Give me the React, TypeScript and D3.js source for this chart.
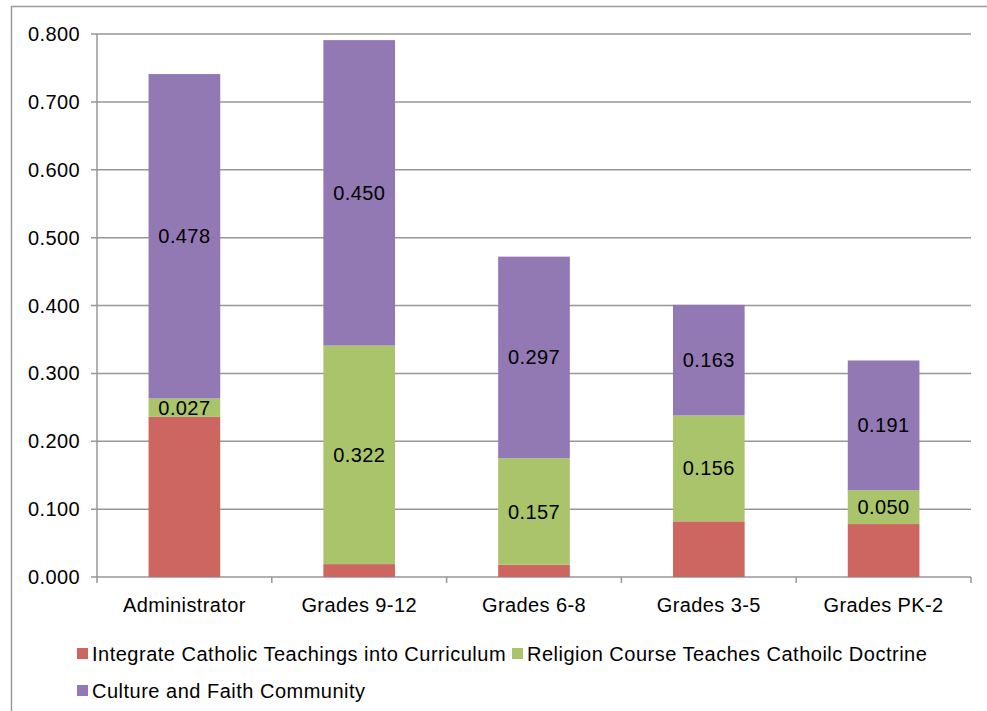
import React from "react";
import * as d3 from "d3";

const categories = ["Administrator", "Grades 9-12", "Grades 6-8", "Grades 3-5", "Grades PK-2"];
const seriesNames = [
  "Integrate Catholic Teachings into Curriculum",
  "Religion Course Teaches Cathoilc Doctrine",
  "Culture and Faith Community",
];
const integrateValues = [0.236, 0.019, 0.018, 0.082, 0.078];
const religionValues = [0.027, 0.322, 0.157, 0.156, 0.05];
const cultureValues = [0.478, 0.45, 0.297, 0.163, 0.191];
const showLabels = [false, true, true];
const yTicks = [0, 0.1, 0.2, 0.3, 0.4, 0.5, 0.6, 0.7, 0.8];
const colors = ["#CD6560", "#A9C46B", "#9279B3"];

export default function App() {
  const W = 987, H = 711;
  const left = 97, right = 971, top = 34, bottom = 577;
  const y = d3.scaleLinear().domain([0, 0.8]).range([bottom, top]);
  const x = d3.scaleBand().domain(categories).range([left, right]).paddingInner(0.59).paddingOuter(0.295);
  const rows = categories.map((c, i) => ({
    cat: c,
    s0: integrateValues[i],
    s1: religionValues[i],
    s2: cultureValues[i],
  }));
  const stack = d3.stack<any>().keys(["s0", "s1", "s2"])(rows);
  const font = "'Liberation Sans', Arial, Helvetica, sans-serif";
  const step = (right - left) / categories.length;
  const fs = 20;
  const ls = 0.4;

  return (
    <svg width={W} height={H} style={{ position: "absolute", left: 0, top: 0 }} fontFamily={font}>
      <rect x={0} y={0} width={W} height={H} fill="#fff" />
      <rect x={11.5} y={6.5} width={W + 20} height={H + 20} fill="none" stroke="#9a9a9a" strokeWidth={1.5} />
      {yTicks.map((t) => (
        <g key={t}>
          <line x1={left - 6} x2={right} y1={y(t)} y2={y(t)} stroke="#979797" strokeWidth={1.5} />
          <text x={80} y={y(t)} dy="0.35em" textAnchor="end" fontSize={fs} letterSpacing={ls} fill="#000">
            {d3.format(".3f")(t)}
          </text>
        </g>
      ))}
      <line x1={left} x2={left} y1={top} y2={bottom} stroke="#979797" strokeWidth={1.5} />
      {d3.range(categories.length + 1).map((i) => (
        <line key={i} x1={left + i * step} x2={left + i * step} y1={bottom} y2={bottom + 6} stroke="#979797" strokeWidth={1.5} />
      ))}
      {stack.map((layer, si) => (
        <g key={si}>
          {layer.map((d, ci) => (
            <rect
              key={ci}
              x={x(categories[ci])}
              y={y(d[1])}
              width={x.bandwidth()}
              height={y(d[0]) - y(d[1])}
              fill={colors[si]}
            />
          ))}
          {showLabels[si] &&
            layer.map((d, ci) => (
              <text
                key={"l" + ci}
                x={(x(categories[ci]) as number) + x.bandwidth() / 2}
                y={(y(d[0]) + y(d[1])) / 2}
                dy="0.35em"
                textAnchor="middle"
                fontSize={fs}
                letterSpacing={ls}
                fill="#000"
              >
                {d3.format(".3f")(d[1] - d[0])}
              </text>
            ))}
        </g>
      ))}
      {categories.map((c) => (
        <text key={c} x={(x(c) as number) + x.bandwidth() / 2} y={605} dy="0.35em" textAnchor="middle" fontSize={fs} letterSpacing={ls} fill="#000">
          {c}
        </text>
      ))}
      {[
        { i: 0, sx: 77, ty: 654 },
        { i: 1, sx: 512, ty: 654 },
        { i: 2, sx: 77, ty: 691 },
      ].map(({ i, sx, ty }) => (
        <g key={i}>
          <rect x={sx} y={ty - 6} width={11} height={11} fill={colors[i]} />
          <text x={sx + 15} y={ty} dy="0.35em" fontSize={fs} letterSpacing={ls + 0.1} fill="#000">
            {seriesNames[i]}
          </text>
        </g>
      ))}
    </svg>
  );
}
